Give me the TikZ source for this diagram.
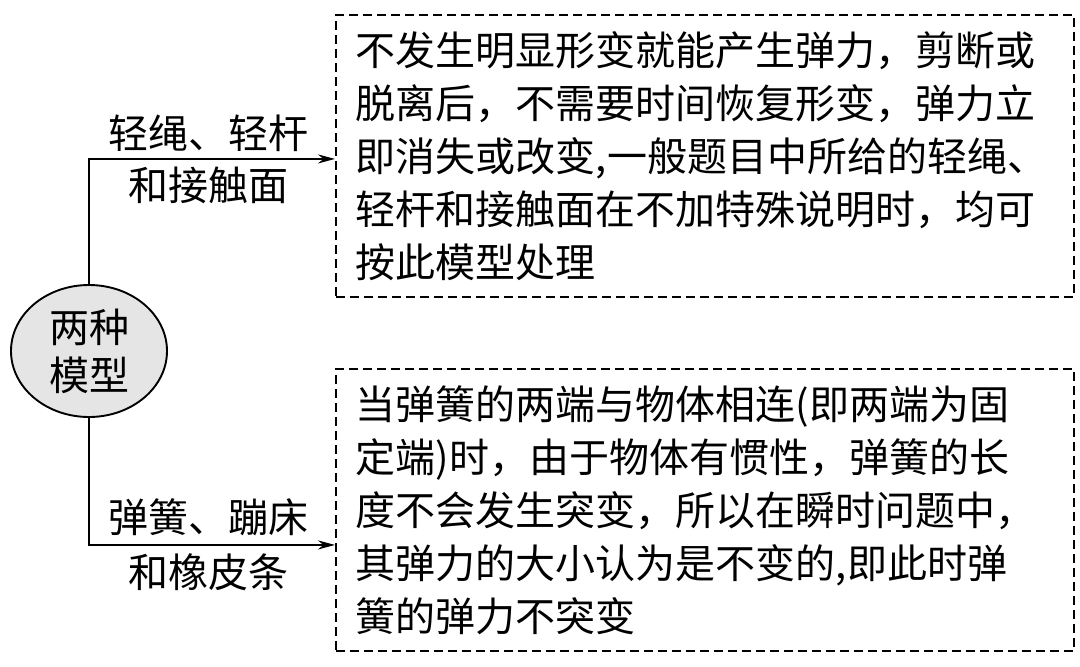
\documentclass[tikz,border=0pt]{standalone}
\usepackage{fontspec}
\setmainfont{Noto Sans CJK SC}
\usetikzlibrary{shapes.geometric,arrows.meta}
\begin{document}
\begin{tikzpicture}[x=1pt,y=-1pt,
  every node/.style={font=\fontsize{40}{53}\selectfont},
  dbox/.style={draw, dashed, dash pattern=on 9pt off 5pt, line width=1.9pt, anchor=north west,
     inner xsep=20pt, inner ysep=0pt, text width=698pt, minimum height=282pt, align=left},
  model/.style={ellipse, draw, line width=1.9pt, fill=black!10, minimum width=156pt, minimum height=132pt, inner sep=0pt, align=center, font=\fontsize{40}{48}\selectfont},
  conn/.style={line width=1.9pt, -{Stealth[length=17pt,width=9pt]}},
  lbl/.style={inner sep=0pt}]
\useasboundingbox (0,0) rectangle (1080,667);
\node[model] (m) at (89,351) {两种\\模型};
\node[dbox] (b1) at (335,14) {不发生明显形变就能产生弹力，剪断或\\脱离后，不需要时间恢复形变，弹力立\\即消失或改变,一般题目中所给的轻绳、\\轻杆和接触面在不加特殊说明时，均可\\按此模型处理};
\node[dbox] (b2) at (335,368) {当弹簧的两端与物体相连(即两端为固\\定端)时，由于物体有惯性，弹簧的长\\度不会发生突变，所以在瞬时问题中，\\其弹力的大小认为是不变的,即此时弹\\簧的弹力不突变};
\draw[conn] (m.north) |- ([yshift=-3pt]b1.west);
\draw[conn] (m.south) |- ([yshift=-35pt]b2.west);
\node[lbl] (l1) at (208,133) {轻绳、轻杆};
\node[lbl] (l2) at (208,185) {和接触面};
\node[lbl] (l3) at (208,517) {弹簧、蹦床};
\node[lbl] (l4) at (208,572) {和橡皮条};
\end{tikzpicture}
\end{document}
